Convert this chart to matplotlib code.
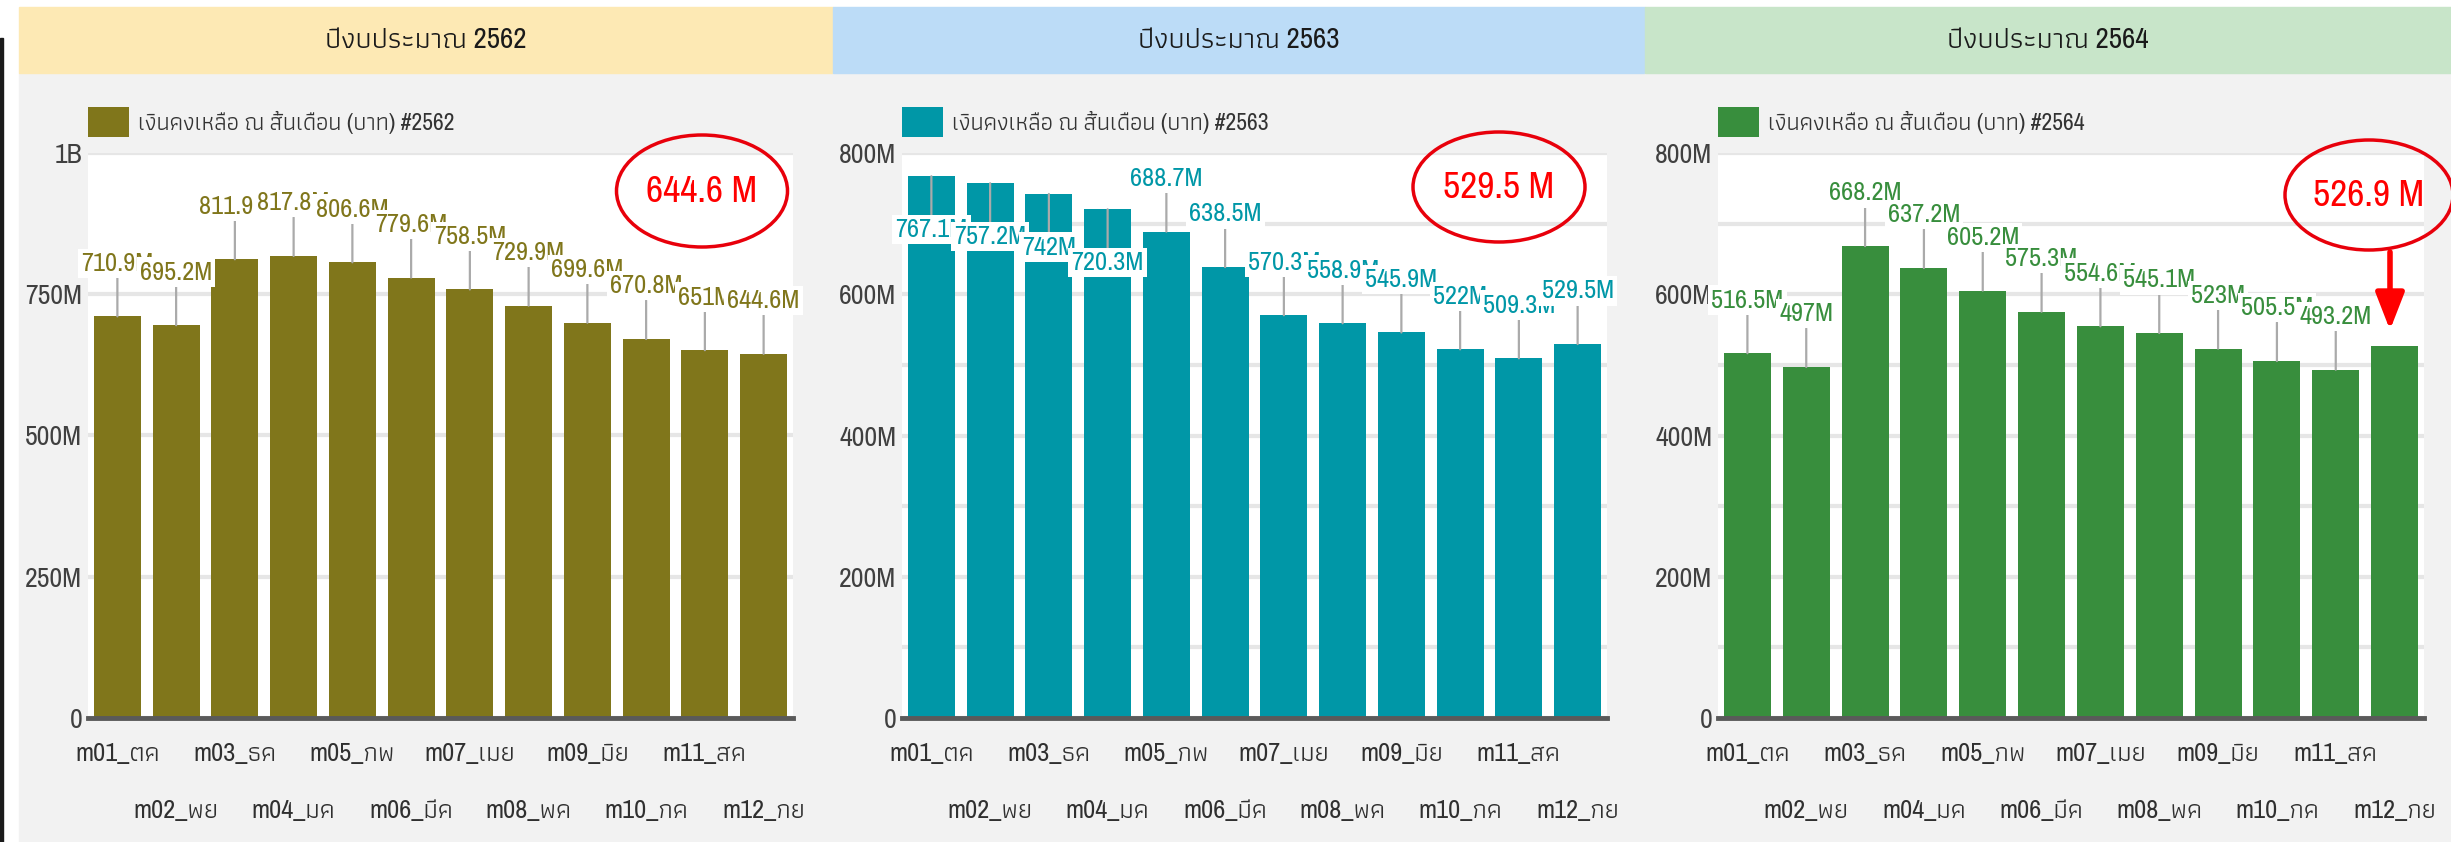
import matplotlib
matplotlib.use("Agg")
import matplotlib.pyplot as plt
from matplotlib.patches import Rectangle, Ellipse
from matplotlib.ticker import MultipleLocator

# ---- data ----
months = ['m01_ตค', 'm02_พย', 'm03_ธค', 'm04_มค', 'm05_กพ', 'm06_มีค',
          'm07_เมย', 'm08_พค', 'm09_มิย', 'm10_กค', 'm11_สค', 'm12_กย']
years = ['2562', '2563', '2564']
vals_2562 = [710.9, 695.2, 811.9, 817.8, 806.6, 779.6, 758.5, 729.9, 699.6, 670.8, 651, 644.6]
vals_2563 = [767.1, 757.2, 742, 720.3, 688.7, 638.5, 570.3, 558.9, 545.9, 522, 509.3, 529.5]
vals_2564 = [516.5, 497, 668.2, 637.2, 605.2, 575.3, 554.6, 545.1, 523, 505.5, 493.2, 526.9]
callouts = ['644.6 M', '529.5 M', '526.9 M']
yticks_2562 = [0, 250, 500, 750, 1000]
ylabels_2562 = ['0', '250M', '500M', '750M', '1B']
yticks_other = [0, 200, 400, 600, 800]
ylabels_other = ['0', '200M', '400M', '600M', '800M']

# ---- style ----
W, H = 2451, 842
FONT = ['Archivo Narrow', 'Athiti', 'DejaVu Sans']
plt.rcParams['font.family'] = FONT
bar_colors = ['#80761b', '#0097a7', '#388e3d']
head_colors = ['#fde9b4', '#bcdcf7', '#c8e5c9']
panel_x = [(19, 833), (833, 1645), (1645, 2451)]
axes_x = [(88, 793), (902, 1607), (1718, 2424)]
circles = [(702, 191, 171, 112), (1499, 187, 172, 110), (2369, 195, 168, 110)]
# bars whose value label sits inside the bar (2563 first four)
inside = {1: [0, 1, 2, 3]}

fig = plt.figure(figsize=(W / 100, H / 100), dpi=100)
fig.patch.set_facecolor('white')

# background layer: panels and header bands (pixel coords)
bg = fig.add_axes([0, 0, 1, 1], zorder=-5)
bg.set_xlim(0, W)
bg.set_ylim(H, 0)
bg.axis('off')
bg.add_patch(Rectangle((0, 38), 3, H - 38, color='#1a1a1a'))
for k in range(3):
    x0, x1 = panel_x[k]
    bg.add_patch(Rectangle((x0, 73), x1 - x0, H - 73, color='#f2f2f2'))
    bg.add_patch(Rectangle((x0, 7), x1 - x0, 66, color=head_colors[k]))
    bg.text((x0 + x1) / 2, 40, 'ปีงบประมาณ ' + years[k], ha='center', va='center',
            fontsize=21, color='#1a1a1a')

all_vals = [vals_2562, vals_2563, vals_2564]
for k in range(3):
    vals = all_vals[k]
    col = bar_colors[k]
    ax0, ax1 = axes_x[k]
    ax = fig.add_axes([ax0 / W, (H - 718) / H, (ax1 - ax0) / W, 565 / H])
    ax.set_facecolor('white')
    x = list(range(len(months)))
    ax.bar(x, vals, width=0.8, color=col, zorder=2,
           label='เงินคงเหลือ ณ สิ้นเดือน (บาท) #' + years[k])
    ax.set_xlim(-0.5, 11.5)
    if k == 0:
        ax.set_ylim(0, 1000)
        ax.set_yticks(yticks_2562, ylabels_2562)
    else:
        ax.set_ylim(0, 800)
        ax.set_yticks(yticks_other, ylabels_other)
        ax.yaxis.set_minor_locator(MultipleLocator(100))
    ax.grid(axis='y', which='both', color='#e6e6e6', lw=3, zorder=0)
    ax.set_axisbelow(True)
    for s in ['top', 'right', 'left']:
        ax.spines[s].set_visible(False)
    ax.spines['bottom'].set_color('#5a5a5a')
    ax.spines['bottom'].set_linewidth(3.5)
    ax.spines['bottom'].set_zorder(3)
    ax.tick_params(axis='y', which='both', length=0, labelsize=20, labelcolor='#404040', pad=4)
    ax.tick_params(axis='x', length=0, labelsize=19, labelcolor='#303030', pad=17)
    ax.set_xticks(x, months)
    for t in ax.xaxis.get_major_ticks()[1::2]:
        t.set_pad(58)

    # value labels with leader lines
    for i, v in enumerate(vals):
        if k == 2 and i == len(vals) - 1:
            continue
        txt = f'{v:g}M'
        below = i in inside.get(k, [])
        ax.annotate(txt, xy=(i, v), xytext=(0, -30 if below else 30),
                    textcoords='offset points', ha='center',
                    va='top' if below else 'bottom', fontsize=19, color=col,
                    bbox=dict(boxstyle='square,pad=0.12', fc='white', ec='none'),
                    arrowprops=dict(arrowstyle='-', color='#aaaaaa', lw=1.6,
                                    shrinkA=0, shrinkB=0),
                    zorder=4)

    leg = ax.legend(loc='lower left', bbox_to_anchor=(0, 1 + 16 / 565), frameon=False,
                    borderaxespad=0, borderpad=0, handlelength=1.75, handleheight=1.6,
                    handletextpad=0.35, fontsize=17)
    for t in leg.get_texts():
        t.set_color('#333333')

# annotation layer: red circles and arrow
top = fig.add_axes([0, 0, 1, 1], zorder=10)
top.set_xlim(0, W)
top.set_ylim(H, 0)
top.axis('off')
top.patch.set_visible(False)
for k in range(3):
    cx, cy, w, h = circles[k]
    top.add_patch(Ellipse((cx, cy), w, h, fill=False, ec='#e8000b', lw=2.5, clip_on=False))
    top.text(cx, cy, callouts[k], ha='center', va='center', fontsize=27, color='#ff0000')
top.annotate('', xy=(2390, 330), xytext=(2390, 252),
             arrowprops=dict(arrowstyle='-|>,head_width=0.35,head_length=0.9',
                             color='#ff0000', lw=4, shrinkA=0, shrinkB=0,
                             mutation_scale=25))

fig.savefig('out.png', dpi=100)
